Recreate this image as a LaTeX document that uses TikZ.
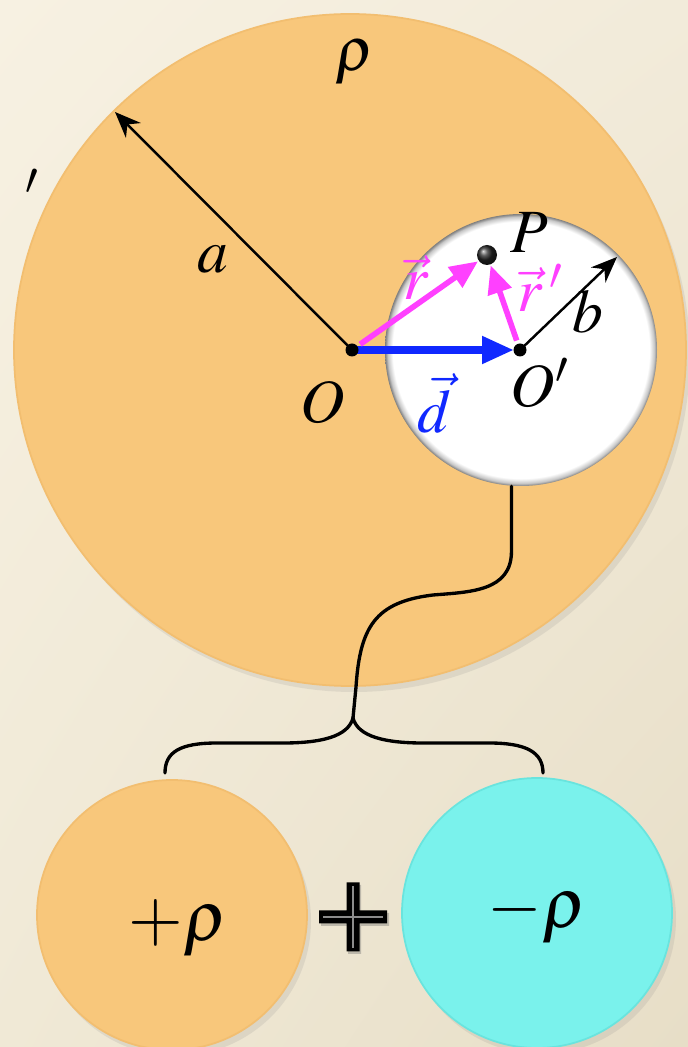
\documentclass[tikz,border=0pt]{standalone}
\usepackage{mathptmx}
\usepackage{xcolor}
\usetikzlibrary{arrows.meta, positioning, shadows, shadings}
\definecolor{slidetl}{RGB}{247,241,226}
\definecolor{slidetr}{RGB}{242,235,218}
\definecolor{slidebl}{RGB}{240,233,214}
\definecolor{slidebr}{RGB}{231,222,199}
\definecolor{chargeorange}{RGB}{248,199,123}
\definecolor{chargerim}{RGB}{242,190,112}
\definecolor{chargecyan}{RGB}{122,242,236}
\definecolor{cyanrim}{RGB}{105,228,222}
\definecolor{vecmagenta}{RGB}{255,64,255}
\definecolor{vecblue}{RGB}{16,40,255}
\pgfdeclareradialshading{holeshade}{\pgfpoint{0bp}{0bp}}{color(0bp)=(white); color(23.6bp)=(white); color(24.5bp)=(black!22); color(25bp)=(black!50); color(50bp)=(black!50)}

\begin{document}
\begin{tikzpicture}[
        >=Latex,
        charge/.style={circle, inner sep=0pt, minimum size=#1},
        chargepos/.style={charge=#1, fill=chargeorange, draw=chargerim, line width=0.5pt,
            drop shadow={opacity=0.15, shadow xshift=0.4mm, shadow yshift=-0.6mm}},
        chargeneg/.style={charge=#1, fill=chargecyan, draw=cyanrim, line width=0.5pt,
            drop shadow={opacity=0.15, shadow xshift=0.4mm, shadow yshift=-0.6mm}},
        lbl/.style={font=\fontsize{17.5}{21}\selectfont, inner sep=0pt},
        biglbl/.style={font=\fontsize{20}{24}\selectfont, inner sep=0pt},
        radiusarrow/.style={-{Stealth[length=2.6mm, width=2.1mm]}, line width=0.7pt},
        darrow/.style={-{Triangle[length=3.2mm, width=2.6mm]}, line width=2.2pt, vecblue},
        rarrow/.style={-{Triangle[length=2.8mm, width=2.4mm]}, line width=1.6pt, vecmagenta},
        link/.style={line width=0.95pt, line cap=round}
    ]
        % slide background
        \shade[upper left=slidetl, upper right=slidetr, lower left=slidebl, lower right=slidebr]
            (0,0) rectangle (6.88,10.47);
        \useasboundingbox (0,0) rectangle (6.88,10.47);

        % sphere with a cavity
        \node[chargepos=6.72cm] (big) at (3.50,6.97) {};
        \node[charge=2.72cm, shading=holeshade] (hole) at (5.21,6.97) {};

        \coordinate (O) at (3.52,6.97);
        \coordinate (Op) at (5.20,6.97);
        \coordinate (P) at (4.87,7.92);
        \coordinate (atip) at (1.15,9.35);
        \coordinate (btip) at (6.17,7.90);

        \draw[radiusarrow] (O) -- (atip);
        \draw[radiusarrow] (Op) -- (btip);
        \draw[darrow, shorten >=0.6mm] (O) -- (Op);
        \draw[rarrow, shorten <=1mm, shorten >=1.1mm] (O) -- (P);
        \draw[rarrow, shorten <=1mm, shorten >=1.1mm] (Op) -- (P);

        \fill (O) circle (0.065);
        \fill (Op) circle (0.065);
        \shade[ball color=black!85] (P) circle (0.1);

        % labels
        \node[lbl] (rho) at (3.55,9.85) {$\rho$};
        \node[lbl] (alab) at (2.13,7.88) {$a$};
        \node[lbl] (Olab) at (3.23,6.45) {$O$};
        \node[lbl] (Oplab) at (5.40,6.64) {$O'$};
        \node[lbl] (Plab) at (5.29,8.14) {$P$};
        \node[lbl] (blab) at (5.88,7.35) {$b$};
        \node[lbl, text=vecblue] (dlab) at (4.34,6.44) {$\vec{d}$};
        \node[lbl, text=vecmagenta] (rlab) at (4.16,7.69) {$\vec{r}$};
        \node[lbl, text=vecmagenta] (rplab) at (5.41,7.59) {$\vec{r}\,'$};
        \node[lbl] (stray) at (0.33,8.54) {$'$};

        % the two superposed spheres
        \node[chargepos=2.70cm] (pos) at (1.72,1.32) {};
        \node[chargeneg=2.70cm] (neg) at (5.37,1.34) {};
        \node[biglbl] (poslab) at (1.78,1.19) {$+\rho$};
        \node[biglbl] (neglab) at (5.37,1.32) {$-\rho$};

        % plus sign
        \begin{scope}[shift={(3.53,1.30)}]
            \fill[black!60, opacity=0.35] (-0.32,-0.09) rectangle (0.36,0.04)
                (-0.05,-0.37) rectangle (0.08,0.32);
            \fill[black] (-0.34,-0.065) rectangle (0.34,0.065)
                (-0.065,-0.345) rectangle (0.065,0.345);
            \draw[black!45, line width=0.3pt] (-0.30,0) -- (0.30,0) (0,-0.31) -- (0,0.31);
        \end{scope}

        % connector and brace
        \coordinate (split) at (3.53,3.29);
        \coordinate (lend) at (1.65,2.74);
        \coordinate (rend) at (5.43,2.74);
        \draw[link] (hole.266) -- ++(0,-0.65)
            .. controls +(0,-0.4) and (4.70,4.55) .. (4.33,4.52)
            .. controls (3.75,4.45) and (3.60,4.20) .. (3.56,3.60) -- (split);
        \draw[link] (split) .. controls (3.48,3.10) and (3.20,3.04) .. (2.83,3.04)
            -- (2.17,3.04) .. controls (1.80,3.04) and (1.65,2.95) .. (lend);
        \draw[link] (split) .. controls (3.58,3.10) and (3.86,3.04) .. (4.23,3.04)
            -- (4.89,3.04) .. controls (5.26,3.04) and (5.43,2.95) .. (rend);
    \end{tikzpicture}
\end{document}
